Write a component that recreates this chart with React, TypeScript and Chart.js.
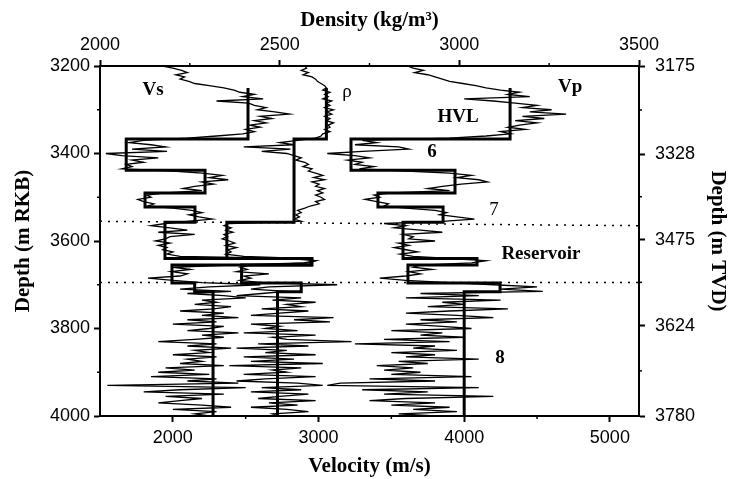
import React, { useEffect, useRef } from "react";
import { Chart, registerables } from "chart.js";
Chart.register(...registerables);

// depth sampling of the logs (m RKB)
const DEPTH_TOP = 3200;
const DEPTH_STEP = 5;

// Shear velocity log (m/s), one value per depth sample
const vsLog = [
  1930, 2000, 2060, 2100, 2020, 2080, 2050, 2110, 2150, 2250,
  2350, 2420, 2460, 2560, 2480, 2620, 2300, 2520, 2560, 2640,
  2580, 2700, 2800, 2600, 2680, 2560, 2640, 2530, 2600, 2500,
  2560, 2480, 2300, 2100, 1800, 1700, 1850, 1950, 1720, 1960,
  1540, 1650, 1900, 1720, 1800, 1680, 1720, 1650, 2000, 2200,
  2340, 2250, 2380, 2200, 2280, 2150, 2070, 2200, 1950, 1820,
  1850, 1760, 1800, 1870, 1830, 2000, 2130, 2200, 2110, 2180,
  2270, 2100, 1950, 1850, 1980, 2100, 1900, 2150, 1980, 1950,
  1880, 1980, 1900, 1960, 1930, 2000, 1960, 2050, 2800, 2980,
  2900, 2400, 2000, 2120, 1990, 2100, 2050, 1830, 2000, 2200,
  2600, 2250, 2050, 2400, 2100, 2350, 2500, 2200, 2300, 2150,
  2400, 2280, 2050, 2350, 2200, 2450, 2100, 2300, 2000, 2350,
  2250, 2100, 2450, 2200, 2350, 2150, 1900, 2300, 2100, 2400,
  2150, 2250, 2000, 2300, 2100, 2200, 2050, 2350, 1950, 2150,
  1900, 2250, 1850, 2300, 2100, 2450, 1550, 2500, 2050, 1800,
  2350, 1950, 2200, 2050, 1900, 2200, 2400, 2000, 2300, 2150,
  2250,
];

// Density log (kg/m3)
const rhoLog = [
  2570, 2575, 2560, 2580, 2565, 2590, 2600, 2605, 2615, 2625,
  2630, 2620, 2640, 2625, 2635, 2620, 2645, 2630, 2640, 2625,
  2650, 2630, 2645, 2625, 2640, 2630, 2650, 2635, 2640, 2625,
  2640, 2620, 2615, 2600, 2550, 2500, 2540, 2400, 2530, 2450,
  2520, 2540, 2560, 2545, 2570, 2580, 2565, 2590, 2580, 2600,
  2620, 2595, 2625, 2590, 2610, 2600, 2625, 2605, 2620, 2600,
  2615, 2625, 2600, 2610, 2585, 2570, 2550, 2560, 2545, 2555,
  2540, 2560, 2360, 2345, 2365, 2350, 2370, 2345, 2355, 2340,
  2360, 2375, 2350, 2380, 2355, 2365, 2350, 2400, 2560, 2600,
  2580, 2420, 2390, 2410, 2380, 2470, 2400, 2420, 2390, 2450,
  2660, 2470, 2420, 2520, 2450, 2380, 2560, 2480, 2600, 2520,
  2560, 2450, 2580, 2500, 2420, 2650, 2540, 2640, 2420, 2500,
  2460, 2550, 2400, 2600, 2480, 2520, 2700, 2440, 2580, 2380,
  2520, 2460, 2600, 2400, 2540, 2420, 2620, 2360, 2560, 2480,
  2520, 2400, 2600, 2460, 2380, 2550, 2620, 2450, 2560, 2420,
  2580, 2500, 2440, 2600, 2470, 2550, 2420, 2520, 2580, 2480,
  2500,
];

// Compressional velocity log (m/s)
const vpLog = [
  3610, 3650, 3720, 3660, 3750, 3800, 3850, 3900, 3990, 4080,
  4150, 4250, 4380, 4300, 4450, 4000, 4200, 4350, 4500, 4400,
  4600, 4450, 4700, 4400, 4550, 4350, 4500, 4380, 4300, 4420,
  4250, 4320, 4150, 3900, 3300, 3400, 3250, 3550, 3620, 3300,
  3060, 3250, 3350, 3200, 3300, 3250, 3380, 3280, 3600, 3900,
  4050, 3950, 4100, 4160, 3980, 3850, 3750, 3900, 3500, 3380,
  3420, 3320, 3400, 3480, 3450, 3600, 3800, 3880, 3830, 3950,
  4070, 3850, 3450, 3600, 3520, 3700, 3850, 3580, 3650, 3620,
  3800, 3550, 3620, 3520, 3600, 3680, 3560, 3650, 3900, 4150,
  4050, 3700, 3650, 3780, 3620, 3700, 3600, 3420, 3600, 3900,
  4200, 4500, 4250, 4540, 3700, 4100, 3600, 4250, 3850, 4000,
  3750, 4300, 3900, 3600, 3950, 4200, 3700, 3950, 3600, 3850,
  4050, 3500, 3850, 3700, 4000, 3450, 3900, 3250, 3800, 3650,
  3950, 3500, 3800, 3600, 4100, 3550, 3750, 3400, 3650, 3450,
  3700, 3500, 4050, 3350, 3800, 3150, 3060, 4100, 3300, 3750,
  3450, 4200, 3600, 3350, 3800, 3500, 3900, 3650, 3950, 3550,
  3800,
];

// Blocked (layer) model
const blockTops = [3250, 3367, 3438, 3490, 3522, 3557, 3640, 3655, 3696, 3716];
const blockBase = 4000;
const vsBlock = [2516, 1680, 2221, 1809, 2152, 1946, 2950, 1994, 2150, 2276];
const rhoBlock = [2630, 2540, 2540, 2540, 2540, 2353, 2590, 2394, 2560, 2494];
const vpBlock = [4315, 3223, 3937, 3408, 3855, 3580, 4088, 3614, 4246, 4000];

// Reservoir boundary markers (depth at left / right edge)
const markerLeftDepths = [3555, 3695];
const markerRightDepths = [3565, 3695];

// Axes
const VEL_MIN = 1500, VEL_MAX = 5200;
const DEN_MIN = 2000, DEN_MAX = 3500;
const DEP_MIN = 3200, DEP_MAX = 4000;
const TVD_MIN = 3175, TVD_MAX = 3780;
const velocityTicks = [2000, 3000, 4000, 5000];
const velocityMinor = [2500, 3500, 4500];
const densityTicks = [2000, 2500, 3000, 3500];
const densityMinor = [2250, 2750, 3250];
const depthTicks = [3200, 3400, 3600, 3800, 4000];
const depthMinor = [3300, 3500, 3700, 3900];
const tvdTicks = [3175, 3328, 3475, 3624, 3780];
const tvdMinor = [3251, 3401, 3549, 3702];

// In-plot labels (velocity, depth anchor)
const labelTexts = ["Vs", "ρ", "Vp", "HVL", "6", "7", "Reservoir", "8"];
const labelVelocity = [1864, 3196, 4727, 3958, 3779, 4205, 4527, 4246];
const labelDepth = [3255, 3259, 3248, 3317, 3397, 3529, 3630, 3867];
const labelBold = [true, false, true, true, true, false, true, true];

const SERIF = "'Liberation Serif', 'DejaVu Serif', serif";
const SANS = "'Liberation Sans', Arial, sans-serif";

const logPoints = (vals: number[]) =>
  vals.map((v, i) => ({ x: v, y: DEPTH_TOP + DEPTH_STEP * i }));
const blockPoints = (vals: number[]) =>
  vals.flatMap((v, i) => [
    { x: v, y: blockTops[i] },
    { x: v, y: i + 1 < blockTops.length ? blockTops[i + 1] : blockBase },
  ]);

const minorTicksPlugin = {
  id: "minorTicks",
  afterDraw(chart: any) {
    const ctx = chart.ctx;
    const spec: [string, number[]][] = [
      ["x", velocityMinor],
      ["x2", densityMinor],
      ["y", depthMinor],
      ["y2", tvdMinor],
    ];
    ctx.save();
    ctx.strokeStyle = "#000";
    ctx.lineWidth = 1.5;
    for (const [id, vals] of spec) {
      const s = chart.scales[id];
      for (const v of vals) {
        const p = s.getPixelForValue(v);
        ctx.beginPath();
        if (id === "x") { ctx.moveTo(p, s.top); ctx.lineTo(p, s.top + 3); }
        else if (id === "x2") { ctx.moveTo(p, s.bottom); ctx.lineTo(p, s.bottom - 3); }
        else if (id === "y") { ctx.moveTo(s.right, p); ctx.lineTo(s.right - 3, p); }
        else { ctx.moveTo(s.left, p); ctx.lineTo(s.left + 3, p); }
        ctx.stroke();
      }
    }
    ctx.restore();
  },
};

const labelsPlugin = {
  id: "plotLabels",
  afterDatasetsDraw(chart: any) {
    const ctx = chart.ctx;
    const xs = chart.scales.x;
    const ys = chart.scales.y;
    ctx.save();
    ctx.fillStyle = "#000";
    ctx.textAlign = "center";
    ctx.textBaseline = "middle";
    labelTexts.forEach((t, i) => {
      ctx.font = `${labelBold[i] ? "bold " : ""}19px ${SERIF}`;
      ctx.fillText(t, xs.getPixelForValue(labelVelocity[i]), ys.getPixelForValue(labelDepth[i]));
    });
    ctx.restore();
  },
};

const tickFont = { family: SANS, size: 18 };
const titleFont = { family: SERIF, size: 21, weight: "bold" as const };
const plain = (v: any) => `${v}`;
const gridOpts = {
  drawOnChartArea: false,
  drawTicks: true,
  tickLength: 6,
  tickWidth: 2,
  tickColor: "#000",
};
const borderOpts = { display: true, color: "#000", width: 2 };

export default function App() {
  const ref = useRef<HTMLCanvasElement>(null);
  useEffect(() => {
    const line = (data: any[], xAxisID: string, width: number, extra: any = {}) => ({
      data,
      xAxisID,
      yAxisID: "y",
      showLine: true,
      borderColor: "#000",
      backgroundColor: "#000",
      borderWidth: width,
      pointRadius: 0,
      tension: 0,
      fill: false,
      ...extra,
    });
    const markers = markerLeftDepths.map((d, i) =>
      line(
        [
          { x: VEL_MIN, y: d },
          { x: VEL_MAX, y: markerRightDepths[i] },
        ],
        "x",
        1.5,
        { borderDash: [2, 6] }
      )
    );
    const chart = new Chart(ref.current!, {
      type: "scatter",
      data: {
        datasets: [
          line(logPoints(vsLog), "x", 1.3),
          line(logPoints(rhoLog), "x2", 1.3),
          line(logPoints(vpLog), "x", 1.3),
          line(blockPoints(vsBlock), "x", 3),
          line(blockPoints(rhoBlock), "x2", 3),
          line(blockPoints(vpBlock), "x", 3),
          ...markers,
        ] as any,
      },
      options: {
        responsive: false,
        animation: false,
        devicePixelRatio: 1,
        layout: { padding: 0 },
        plugins: { legend: { display: false }, tooltip: { enabled: false } },
        scales: {
          x: {
            type: "linear",
            position: "bottom",
            min: VEL_MIN,
            max: VEL_MAX,
            afterBuildTicks: (s: any) => { s.ticks = velocityTicks.map((v) => ({ value: v })); },
            afterFit: (s: any) => { s.height = 63; },
            ticks: { font: tickFont, color: "#000", padding: 5, maxRotation: 0, callback: plain },
            grid: gridOpts,
            border: borderOpts,
            title: { display: true, text: "Velocity (m/s)", font: titleFont, color: "#000", padding: { top: 0, bottom: 0 } },
          },
          x2: {
            type: "linear",
            position: "top",
            min: DEN_MIN,
            max: DEN_MAX,
            afterBuildTicks: (s: any) => { s.ticks = densityTicks.map((v) => ({ value: v })); },
            afterFit: (s: any) => { s.height = 66; },
            ticks: { font: tickFont, color: "#000", padding: 4, maxRotation: 0, callback: plain },
            grid: gridOpts,
            border: borderOpts,
            title: { display: true, text: "Density (kg/m³)", font: titleFont, color: "#000", padding: { top: 8, bottom: 0 } },
          },
          y: {
            type: "linear",
            position: "left",
            reverse: true,
            min: DEP_MIN,
            max: DEP_MAX,
            afterBuildTicks: (s: any) => { s.ticks = depthTicks.map((v) => ({ value: v })); },
            afterFit: (s: any) => { s.width = 100; },
            ticks: { font: tickFont, color: "#000", padding: 4, callback: plain },
            grid: gridOpts,
            border: borderOpts,
            title: { display: true, text: "Depth (m RKB)", font: titleFont, color: "#000", padding: { top: 11, bottom: 0 } },
          },
          y2: {
            type: "linear",
            position: "right",
            reverse: true,
            min: TVD_MIN,
            max: TVD_MAX,
            afterBuildTicks: (s: any) => { s.ticks = tvdTicks.map((v) => ({ value: v })); },
            afterFit: (s: any) => { s.width = 99; },
            ticks: { font: tickFont, color: "#000", padding: 10, callback: plain },
            grid: gridOpts,
            border: borderOpts,
            title: { display: true, text: "Depth (m TVD)", font: titleFont, color: "#000", padding: { top: 8, bottom: 0 } },
          },
        },
      } as any,
      plugins: [minorTicksPlugin, labelsPlugin],
    });
    return () => chart.destroy();
  }, []);
  return (
    <div style={{ position: "absolute", left: 0, top: 0, width: 738, height: 479, background: "#fff" }}>
      <canvas ref={ref} width={738} height={479} style={{ display: "block", width: 738, height: 479 }} />
    </div>
  );
}
